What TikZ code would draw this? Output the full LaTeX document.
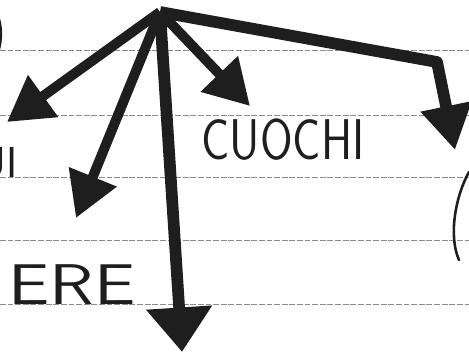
\documentclass[tikz,border=0pt]{standalone}
\usepackage{fontspec}
\usepackage{tikz}
\usetikzlibrary{arrows.meta}
\definecolor{penblack}{HTML}{1E1E1E}
\definecolor{rulegrey}{HTML}{8C8C8C}

\begin{document}
\begin{tikzpicture}[x=0.03cm, y=-0.03cm,
    rule/.style={rulegrey, line width=0.7pt, dash pattern=on 5pt off 1.5pt},
    arr/.style={-{Triangle[length=38pt, width=42pt]}, penblack, line width=8.5pt, line join=round},
    bigarr/.style={-{Triangle[length=38pt, width=54pt]}, penblack, line width=10pt},
    word/.style={font=\sffamily\fontsize{49pt}{49pt}\selectfont, inner sep=0pt, penblack},
    pen/.style={penblack, line width=2.2pt, line cap=round}]
  \useasboundingbox (0,0) rectangle (469,354);
  \clip (0,0) rectangle (469,354);
  % ruled lines of the sheet
  \foreach \y in {50,115,177,240,304}
    \draw[rule] (0,\y) -- (469,\y);

  \coordinate (hub) at (160,12);
  \coordinate (tipui) at (7,122);
  \coordinate (tipmid) at (76,218);
  \coordinate (tipcuochi) at (250,106);
  \coordinate (tipdown) at (182,352);
  \coordinate (bend) at (437,62);
  \coordinate (tipright) at (455,150);

  \node[word, xscale=0.82] (cuochi) at (283,140) {CUOCHI};
  \node[word, xscale=1.28] (ere) at (72,285) {ERE};
  \node[word, font=\sffamily\fontsize{37pt}{37pt}\selectfont, anchor=west] (ui) at (-22,163) {UI};

  \draw[arr] (hub) -- (tipui);
  \draw[arr] (hub) -- (tipmid);
  \draw[arr] (hub) -- (tipcuochi);
  \draw[bigarr] (hub) -- (tipdown);
  \draw[arr, line width=10pt] (hub) -- (bend) -- (tipright);

  % cut-off strokes at the edges
  \draw[pen] (-3,14) .. controls (2,25) and (2,40) .. (-2,52);
  \draw[pen] (469,172) .. controls (456,195) and (448,235) .. (459,260);
\end{tikzpicture}
\end{document}
